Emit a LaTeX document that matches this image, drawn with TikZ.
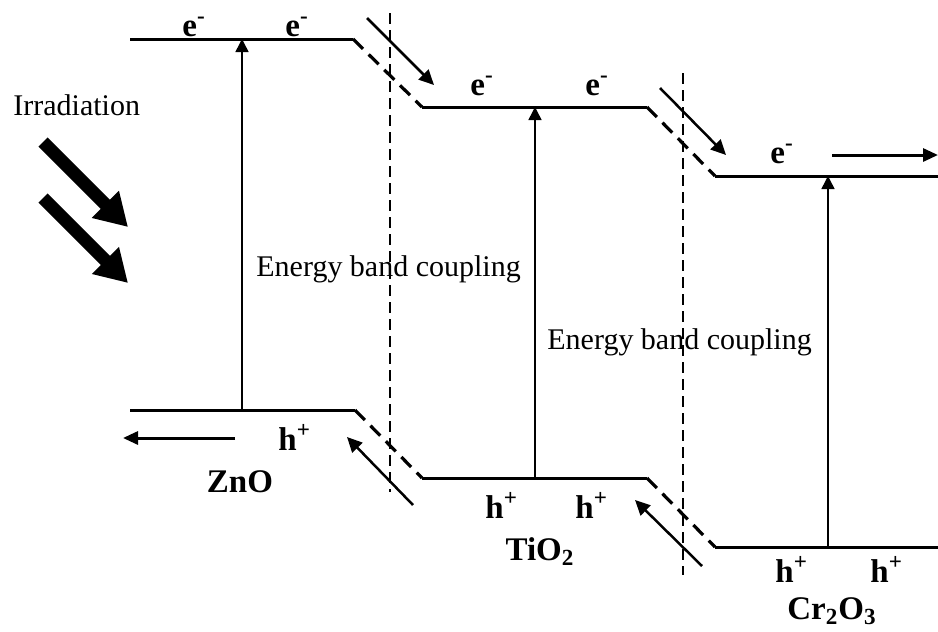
\documentclass[tikz,border=0pt]{standalone}
\usepackage{fontspec}
\setmainfont{Liberation Serif}
\usetikzlibrary{arrows.meta}

\begin{document}
\begin{tikzpicture}[x=0.5pt,y=-0.5pt,
  band/.style={line width=1.5pt},
  bandbend/.style={line width=1.6pt,dash pattern=on 7pt off 4pt},
  interface/.style={line width=1pt,dash pattern=on 5.5pt off 3pt},
  excite/.style={line width=0.75pt,-{Triangle[width=6.5pt,length=6.5pt]}},
  transfer/.style={line width=1.25pt,-{Triangle[width=7pt,length=7.5pt]}},
  flow/.style={line width=1.5pt,-{Triangle[width=6.5pt,length=7.5pt]}},
  light/.style={line width=6.5pt,-{Triangle[width=18pt,length=16pt]}},
  txt/.style={font=\fontsize{15}{18}\selectfont,anchor=base west,inner sep=0pt},
  carrier/.style={font=\fontsize{16.5}{20}\selectfont\bfseries,anchor=base west,inner sep=0pt},
  oxide/.style={font=\fontsize{16.5}{20}\selectfont\bfseries,anchor=base,inner sep=0pt}]
  \useasboundingbox (0,0) rectangle (938,632);

  \coordinate (zcb1) at (130,39);  \coordinate (zcb2) at (353,39);
  \coordinate (tcb1) at (422,107); \coordinate (tcb2) at (647,107);
  \coordinate (ccb1) at (715,176); \coordinate (ccb2) at (938,176);
  \coordinate (zvb1) at (130,410); \coordinate (zvb2) at (355,410);
  \coordinate (tvb1) at (422,478); \coordinate (tvb2) at (647,478);
  \coordinate (cvb1) at (715,547); \coordinate (cvb2) at (938,547);

  \draw[band] (zcb1) -- (zcb2) (tcb1) -- (tcb2) (ccb1) -- (ccb2);
  \draw[band] (zvb1) -- (zvb2) (tvb1) -- (tvb2) (cvb1) -- (cvb2);
  \draw[bandbend] (zcb2) -- (tcb1) (tcb2) -- (ccb1);
  \draw[bandbend] (zvb2) -- (tvb1) (tvb2) -- (cvb1);

  \coordinate (if1top) at (390,13);  \coordinate (if1bot) at (390,492);
  \coordinate (if2top) at (683,73);  \coordinate (if2bot) at (683,575);
  \draw[interface] (if1top) -- (if1bot);
  \draw[interface] (if2top) -- (if2bot);

  \coordinate (zx) at (242,0); \coordinate (tx) at (535,0); \coordinate (cx) at (828,0);
  \draw[excite] (zx |- zvb1) -- (zx |- zcb1);
  \draw[excite] (tx |- tvb1) -- (tx |- tcb1);
  \draw[excite] (cx |- cvb1) -- (cx |- ccb1);

  \coordinate (et1a) at (367,18);  \coordinate (et1b) at (434,85);
  \coordinate (et2a) at (660,88);  \coordinate (et2b) at (726,155);
  \coordinate (ht1a) at (413,505); \coordinate (ht1b) at (347,437);
  \coordinate (ht2a) at (702,566); \coordinate (ht2b) at (635,500);
  \draw[transfer] (et1a) -- (et1b);
  \draw[transfer] (et2a) -- (et2b);
  \draw[transfer] (ht1a) -- (ht1b);
  \draw[transfer] (ht2a) -- (ht2b);

  \coordinate (eout1) at (832,155); \coordinate (eout2) at (938,155);
  \coordinate (hout1) at (235,438); \coordinate (hout2) at (123,438);
  \draw[flow] (eout1) -- (eout2);
  \draw[flow] (hout1) -- (hout2);

  \node[txt] (irr) at (13,115) {Irradiation};
  \coordinate (ir1a) at (43,142); \coordinate (ir1b) at (128,227);
  \coordinate (ir2a) at (43,198); \coordinate (ir2b) at (128,283);
  \draw[light] (ir1a) -- (ir1b);
  \draw[light] (ir2a) -- (ir2b);

  \node[txt] (couple1) at (256,276) {Energy band coupling};
  \node[txt] (couple2) at (547,349) {Energy band coupling};

  \node[carrier] (ze1) at (182,36) {e\textsuperscript{-}};
  \node[carrier] (ze2) at (285,36) {e\textsuperscript{-}};
  \node[carrier] (te1) at (470,95) {e\textsuperscript{-}};
  \node[carrier] (te2) at (585,95) {e\textsuperscript{-}};
  \node[carrier] (ce1) at (770,163) {e\textsuperscript{-}};
  \node[carrier] (zh1) at (278,450) {h\textsuperscript{+}};
  \node[carrier] (th1) at (485,518) {h\textsuperscript{+}};
  \node[carrier] (th2) at (575,518) {h\textsuperscript{+}};
  \node[carrier] (ch1) at (775,582) {h\textsuperscript{+}};
  \node[carrier] (ch2) at (870,582) {h\textsuperscript{+}};

  \node[oxide] (zno) at (240,492) {ZnO};
  \node[oxide] (tio) at (540,560) {TiO\textsubscript{2}};
  \node[oxide] (cro) at (832,619) {Cr\textsubscript{2}O\textsubscript{3}};
\end{tikzpicture}
\end{document}
